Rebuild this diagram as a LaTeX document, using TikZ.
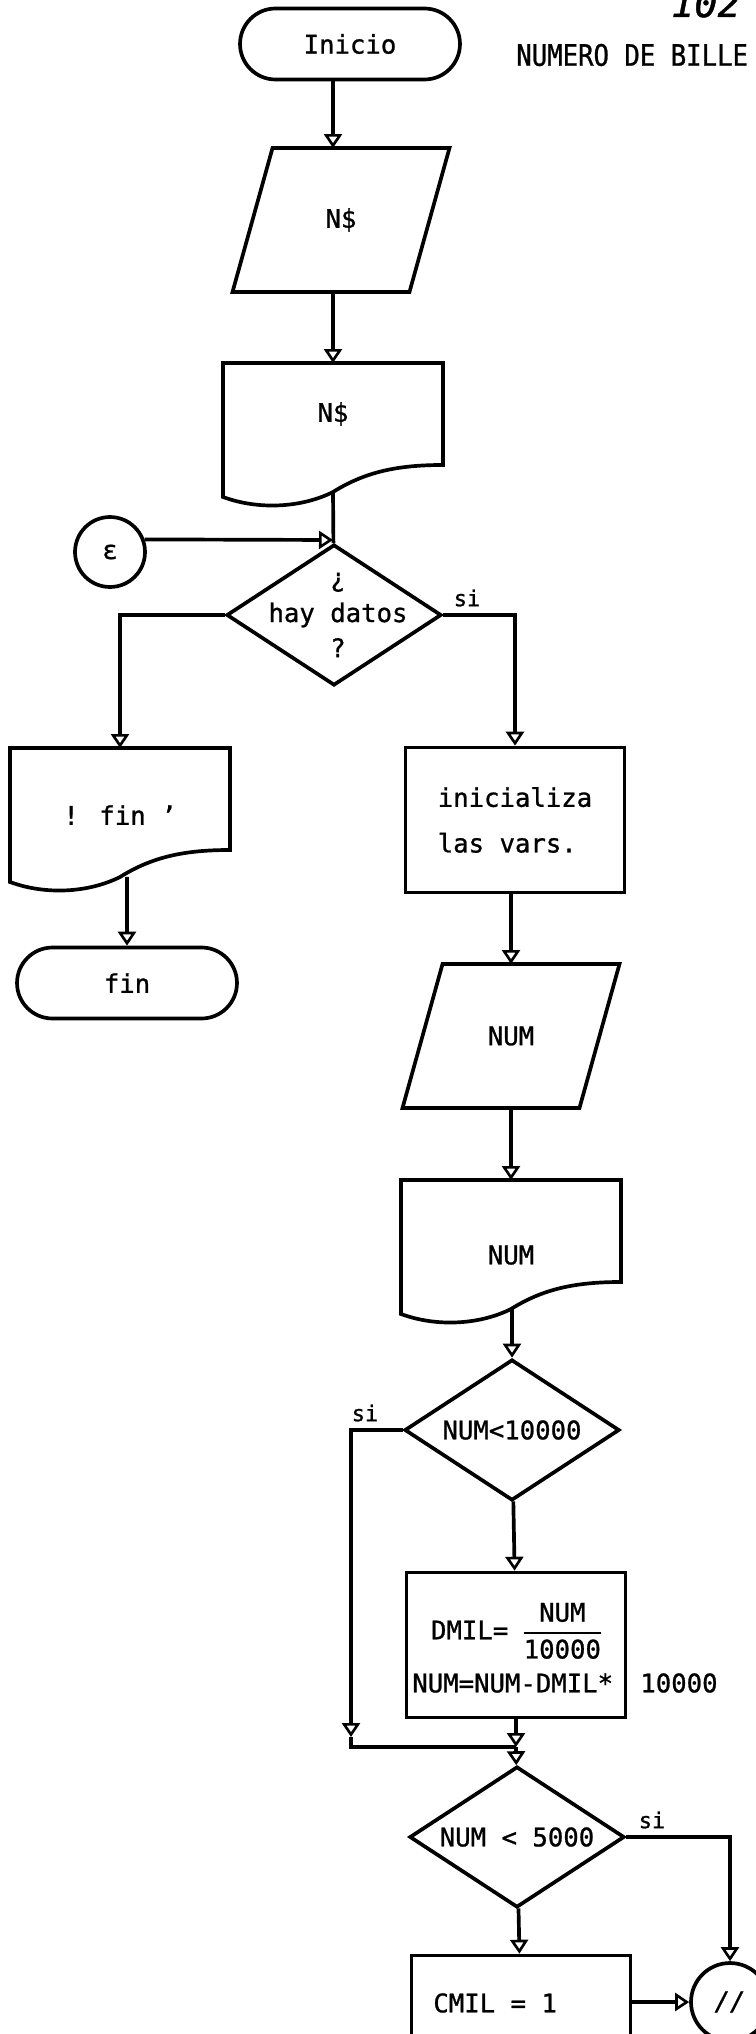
\documentclass[tikz,border=0pt]{standalone}
\usepackage{fontspec}
\setmainfont{DejaVu Sans Mono}[FakeBold=1]
\usetikzlibrary{arrows.meta, shapes.geometric, shapes.misc, calc}

% outline of an input block (slanted sides)
\newcommand{\ioframe}[1]{%
  \draw[shp] ($(#1.south west)+(-20,0)$) -- ($(#1.north west)+(20,0)$)
    -- ($(#1.north east)+(20,0)$) -- ($(#1.south east)+(-20,0)$) -- cycle;}
% outline of a printed document (wavy bottom)
\newcommand{\docframe}[1]{%
  \draw[shp] (#1.north west) -- (#1.north east) -- (#1.south east)
    .. controls +(-46,0) and +(32,-20) .. ($(#1.south west)+(110,27)$)
    .. controls +(-32,16) and +(35,13) .. ($(#1.south west)+(0,32)$)
    -- cycle;
  \coordinate (#1out) at ($(#1.south)+(0,27)$);}

\begin{document}
\begin{tikzpicture}[
  x=0.02cm, y=-0.02cm,
  shp/.style={line width=2.1pt},
  arr/.style={shp, -{Triangle[open, width=3.6mm, length=2.8mm, line width=1.5pt]}},
  txt/.style={font=\fontsize{14.6}{20}\selectfont, inner sep=0pt},
  term/.style={rounded rectangle, draw, shp, txt, minimum width=4.4cm,
               minimum height=1.42cm},
  io/.style={rectangle, txt, outer sep=0pt, minimum width=3.54cm,
             minimum height=2.88cm},
  docu/.style={rectangle, txt, outer sep=0pt, minimum width=4.4cm,
               minimum height=2.04cm},
  proc/.style={rectangle, draw, shp, txt, minimum width=4.38cm,
               minimum height=2.9cm},
  dec/.style={diamond, draw, shp, txt, aspect=1.5, minimum width=4.3cm,
              minimum height=2.82cm},
  conn/.style={circle, draw, shp, txt, minimum size=1.4cm},
  lbl/.style={font=\fontsize{12.5}{14}\selectfont, inner sep=0pt}
]
  \useasboundingbox (0,0) rectangle (755,2034);

  % Encabezado
  \node[txt, anchor=west, yscale=1.15] (titulo) at (516,55) {NUMERO DE BILLE};
  \node[font=\fontsize{22}{24}\selectfont\itshape, anchor=base] (pagina)
    at (706,17) {102};

  % Lectura de N$
  \node[term] (inicio) at (350,44) {Inicio};
  \node[io] (leer) at (341,220) {N\$};
  \ioframe{leer}
  \node[docu] (impr) at (333,414) {N\$};
  \docframe{impr}
  \draw[arr] (inicio.south -| impr) -- (leer.north -| impr);
  \draw[arr] (leer.south -| impr) -- (impr);

  % Pregunta por datos
  \node[dec] (hay) at (334,615) {};
  \node[txt, align=center] (haytxt) at (338,615) {¿\\hay datos\\?};
  \node[conn] (conA) at (110,552) {ε};
  \coordinate (jA) at (333,540);
  \draw[shp] (improut) -- (hay);
  \draw[arr] (conA.20) -- (jA);
  \node[lbl] (siA) at (467,598) {si};

  % Rama de fin
  \node[docu, text height=1.03cm] (finimp) at (120,799) {! fin '};
  \docframe{finimp}
  \node[term] (fin) at (127,983) {fin};
  \draw[arr] (hay.west) -| (finimp);
  \draw[arr] (finimpout -| fin) -- (fin);

  % Rama principal
  \node[proc, font=\fontsize{14.6}{26}\selectfont, align=left] (ini)
    at (515,820) {inicializa\\las vars.};
  \node[io] (leenum) at (511,1036) {NUM};
  \ioframe{leenum}
  \node[docu, text height=1.34cm] (impnum) at (511,1231) {NUM};
  \docframe{impnum}
  \draw[arr] (hay.east) -| (ini);
  \draw[arr] (ini.south -| leenum) -- (leenum);
  \draw[arr] (leenum.south -| impnum) -- (impnum);

  % Decenas de mil
  \node[dec] (cmpA) at (512,1430) {NUM<10000};
  \node[lbl] (siB) at (365,1413) {si};
  \draw[arr] (impnumout -| cmpA) -- (cmpA);
  \node[proc] (dmil) at (516,1645) {};
  \node[txt] (dmilA) at (516,1633) {DMIL= {\setlength{\arrayrulewidth}{1pt}%
    \begin{tabular}{@{}c@{}}NUM\\\hline 10000\end{tabular}}};
  \node[txt, anchor=west] (dmilB) at (412,1683) {NUM=NUM-DMIL*};
  \node[txt, anchor=west] (dmilC) at (640,1683) {10000};
  \draw[arr] (cmpA) -- (dmil);
  \coordinate (byp) at (351,1737);
  \coordinate (jB) at (516,1747);
  \draw[arr] (cmpA.west) -| (byp);
  \draw[shp] (byp) |- (jB);
  \draw[arr] (dmil) -- (jB);

  % Cinco mil
  \node[dec] (cmpB) at (517,1837) {NUM < 5000};
  \node[lbl] (siC) at (652,1820) {si};
  \draw[arr] (jB) -- (cmpB);
  \node[proc] (cmil) at (521,2028) {};
  \node[txt, anchor=west] (cmilA) at (433,2003) {CMIL = 1};
  \node[txt, anchor=west] (cmilB) at (433,2046) {NUM=NUM-5000};
  \node[conn, minimum size=1.56cm] (conB) at (730,2002) {\textit{//}};
  \draw[arr] (cmpB) -- (cmil);
  \draw[arr] (cmpB.east) -| (conB);
  \draw[arr] (cmil.east |- conB) -- (conB);
\end{tikzpicture}
\end{document}
